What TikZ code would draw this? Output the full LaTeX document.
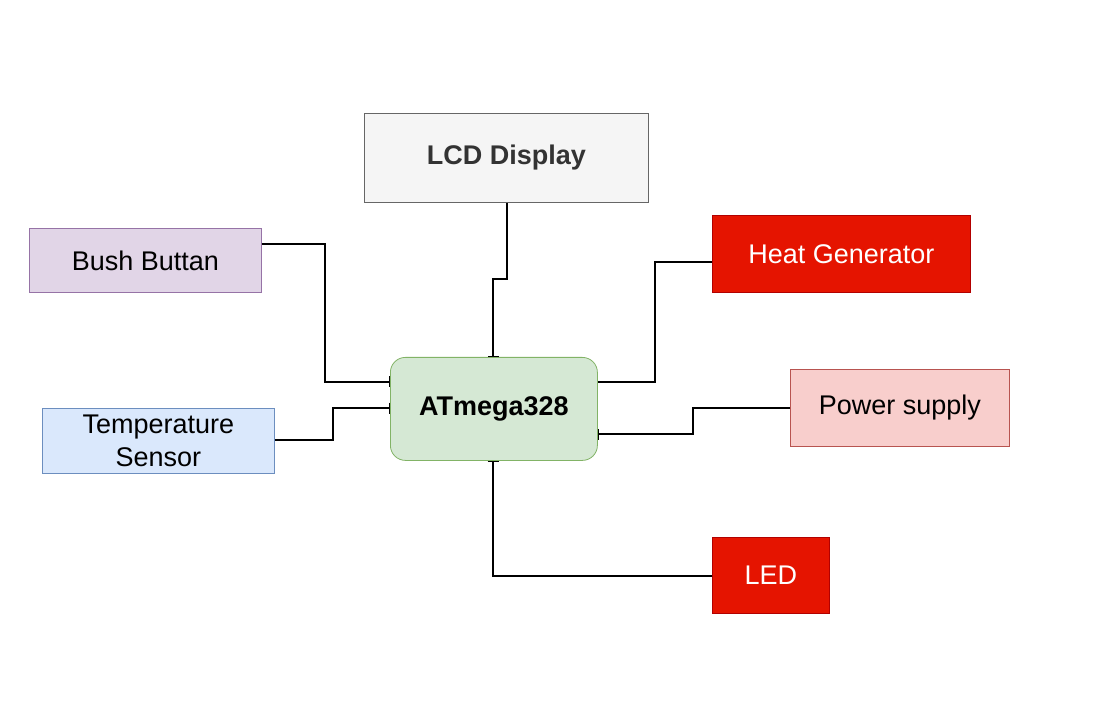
\documentclass[tikz,border=0pt]{standalone}
\usepackage{fontspec}
\setmainfont{Liberation Sans}
\usetikzlibrary{arrows.meta}
\definecolor{lcdfill}{HTML}{F5F5F5}
\definecolor{lcdline}{HTML}{666666}
\definecolor{lcdtext}{HTML}{333333}
\definecolor{purfill}{HTML}{E1D5E7}
\definecolor{purline}{HTML}{9673A6}
\definecolor{bluefill}{HTML}{DAE8FC}
\definecolor{blueline}{HTML}{6C8EBF}
\definecolor{grnfill}{HTML}{D5E8D4}
\definecolor{grnline}{HTML}{82B366}
\definecolor{redfill}{HTML}{E51400}
\definecolor{redline}{HTML}{B20000}
\definecolor{pinkfill}{HTML}{F8CECC}
\definecolor{pinkline}{HTML}{B85450}
\tikzset{
  box/.style={draw, line width=0.8pt, inner sep=0pt, anchor=north west, align=center,
    font=\fontsize{27}{33}\selectfont},
  conn/.style={line width=1.2pt, black},
  barend/.style={conn, -{Bar[width=11pt,line width=1.2pt]}},
}
\begin{document}
\begin{tikzpicture}[x=1pt,y=-1pt]
\useasboundingbox (0,0) rectangle (1117,711);
\fill[white] (0,0) rectangle (1117,711);
\node[box, fill=lcdfill, draw=lcdline, text=lcdtext, minimum width=284pt, minimum height=89pt, font=\fontsize{27}{33}\selectfont\bfseries] (lcd) at (364,113) {LCD Display};
\node[box, fill=purfill, draw=purline, minimum width=232pt, minimum height=64pt] (bush) at (29,228) {Bush Buttan};
\node[box, fill=bluefill, draw=blueline, minimum width=232pt, minimum height=65pt] (temp) at (42,408) {Temperature\\Sensor};
\node[box, fill=grnfill, draw=grnline, rounded corners=15pt, minimum width=207pt, minimum height=103pt, font=\fontsize{27}{33}\selectfont\bfseries] (mcu) at (390,357) {ATmega328};
\node[box, fill=redfill, draw=redline, text=white, minimum width=258pt, minimum height=77pt] (heat) at (712,215) {Heat Generator};
\node[box, fill=pinkfill, draw=pinkline, minimum width=219pt, minimum height=77pt] (power) at (790,369) {Power supply};
\node[box, fill=redfill, draw=redline, text=white, minimum width=117pt, minimum height=76pt] (led) at (712,537) {LED};
\coordinate (b1) at (325,244); \coordinate (b2) at (325,382);
\draw[barend] (bush.east |- b1) -- (b1) -- (b2) -- (mcu.west |- b2);
\coordinate (t1) at (333,440); \coordinate (t2) at (333,408);
\draw[barend] (temp.east |- t1) -- (t1) -- (t2) -- (mcu.west |- t2);
\coordinate (l1) at (507,279); \coordinate (l2) at (493,279);
\draw[barend] (lcd.south -| l1) -- (l1) -- (l2) -- (mcu.north -| l2);
\coordinate (h1) at (655,262); \coordinate (h2) at (655,382);
\draw[conn] (heat.west |- h1) -- (h1) -- (h2) -- (mcu.east |- h2);
\coordinate (p1) at (693,408); \coordinate (p2) at (693,434);
\draw[barend] (power.west |- p1) -- (p1) -- (p2) -- (mcu.east |- p2);
\coordinate (e1) at (493,576);
\draw[barend] (led.west |- e1) -- (e1) -- (mcu.south -| e1);
\end{tikzpicture}
\end{document}
